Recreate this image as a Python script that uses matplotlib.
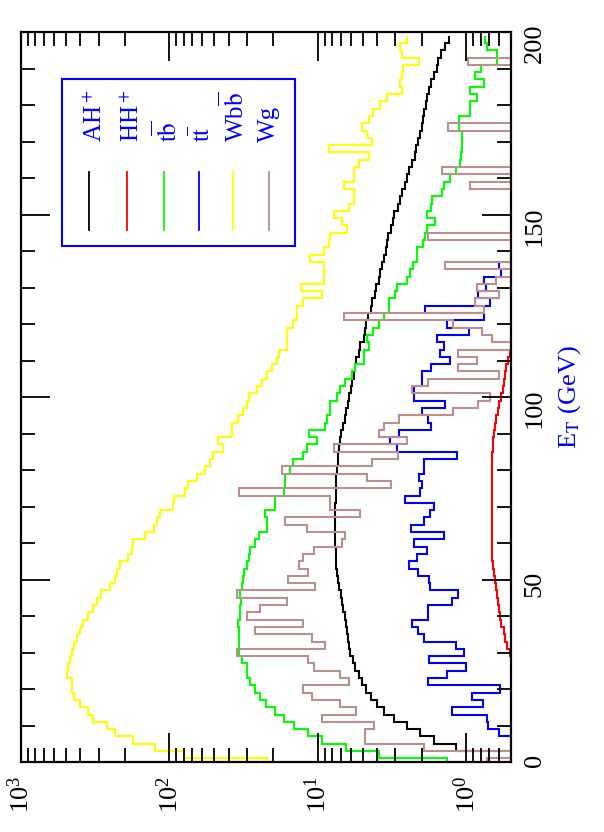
import numpy as np
import matplotlib.pyplot as plt
from matplotlib.ticker import MultipleLocator
from matplotlib.patches import Rectangle
from matplotlib.lines import Line2D

plt.rcParams['font.family'] = ['Liberation Serif', 'DejaVu Serif']
plt.rcParams['mathtext.fontset'] = 'stix'

W, H = 604, 832

# E_T bin centres (GeV), 2 GeV bins
et = np.arange(0, 200, 2)

ah = [0, 0, 1.18, 1.64, 2.04, 2.52, 3.08, 3.6, 4.0, 4.4,
      4.75, 5.05, 5.3, 5.6, 5.8, 6.05, 6.2, 6.3, 6.4, 6.5,
      6.6, 6.8, 6.9, 7.0, 7.2, 7.3, 7.4, 7.5, 7.55, 7.6,
      7.65, 7.65, 7.7, 7.7, 7.7, 7.65, 7.6, 7.6, 7.5, 7.5,
      7.4, 7.3, 7.3, 7.2, 7.1, 7.0, 6.8, 6.6, 6.5, 6.3,
      6.2, 6.0, 5.9, 5.75, 5.6, 5.5, 5.3, 5.2, 4.92, 4.85,
      4.75, 4.6, 4.4, 4.3, 4.15, 4.05, 3.9, 3.8, 3.7, 3.6,
      3.5, 3.43, 3.35, 3.2, 3.1, 3.05, 2.9, 2.8, 2.72, 2.6,
      2.51, 2.42, 2.33, 2.23, 2.17, 2.1, 2.05, 2.0, 1.97, 1.93,
      1.87, 1.83, 1.78, 1.73, 1.66, 1.58, 1.54, 1.47, 1.4, 1.3]

hh = [0, 0, 0, 0, 0, 0, 0, 0, 0, 0,
      0, 0, 0, 0, 0, 0.51, 0.53, 0.55, 0.56, 0.58,
      0.59, 0.6, 0.61, 0.62, 0.63, 0.64, 0.65, 0.66, 0.67, 0.67,
      0.67, 0.67, 0.67, 0.67, 0.67, 0.67, 0.67, 0.67, 0.67, 0.67,
      0.67, 0.67, 0.67, 0.66, 0.66, 0.65, 0.64, 0.63, 0.61, 0.6,
      0.58, 0.57, 0.56, 0.55, 0.54, 0.52, 0.51, 0.5, 0, 0,
      0, 0, 0, 0, 0, 0, 0, 0, 0, 0,
      0, 0, 0, 0, 0, 0, 0, 0, 0, 0,
      0, 0, 0, 0, 0, 0, 0, 0, 0, 0,
      0, 0, 0, 0, 0, 0, 0, 0, 0, 0]

tb = [1.35, 3.9, 6.5, 9.4, 11.7, 14.5, 17, 19.4, 22.3, 24.5,
      26.5, 28.5, 30, 30, 32.5, 34, 34, 34, 34, 34.5,
      33.5, 33.5, 33, 33.5, 32.5, 32, 31.7, 30, 29.3, 28.5,
      26.4, 25.1, 22.1, 22.1, 22.6, 19.4, 19.4, 17, 16.7, 16.7,
      15.4, 14.6, 12.6, 11.9, 10.2, 11.5, 8.9, 8.7, 8.3, 8.3,
      7.45, 7.07, 6.55, 5.9, 5.6, 4.92, 4.92, 4.55, 4.65, 4.22,
      3.9, 3.6, 3.33, 3.33, 3.01, 2.93, 2.51, 2.38, 2.3, 2.15,
      2.15, 1.95, 1.9, 1.85, 1.62, 1.85, 1.72, 1.7, 1.45, 1.42,
      1.28, 1.18, 1.1, 1.08, 1.07, 1.07, 1.07, 1.12, 1.12, 0.94,
      0.94, 0.85, 0.94, 0.76, 0.87, 0.8, 0.62, 0.62, 0.72, 0.75]

tt = [0, 0, 0, 0, 0.6, 0.71, 0.72, 1.25, 0.77, 0.91,
      0.59, 1.82, 1.35, 1.0, 1.79, 1.04, 1.18, 1.92, 2.1, 2.32,
      1.8, 1.82, 1.25, 1.13, 1.77, 1.78, 2.1, 2.45, 2.15, 1.84,
      2.26, 1.42, 2.36, 1.94, 1.75, 1.66, 2.58, 2.04, 2.0, 2.07,
      1.94, 1.94, 1.16, 2.93, 3.25, 2.86, 1.72, 1.8, 1.99, 1.39,
      2.26, 2.26, 2.0, 2.0, 1.73, 1.28, 1.5, 1.42, 1.58, 0.96,
      1.35, 0.76, 1.89, 0.69, 0.83, 0.74, 0.76, 0.58, 0.6, 0,
      0, 0, 0, 0, 0, 0, 0, 0, 0, 0,
      0, 0, 0, 0, 0, 0, 0, 0, 0, 0,
      0, 0, 0, 0, 0, 0, 0, 0, 0, 0]

wbb = [22, 80, 125, 176, 232, 264, 327, 352, 400, 442,
       455, 455, 488, 485, 467, 450, 438, 421, 400, 380,
       352, 325, 306, 290, 251, 232, 226, 215, 189, 179,
       175, 146, 128, 122, 116, 94, 93, 78, 74.5, 65.5,
       57.5, 53, 50.5, 43.7, 46.8, 38, 38, 34.3, 32, 30,
       29, 25.8, 23.9, 22.1, 20.4, 18.9, 18.4, 16.2, 16.2, 16.2,
       14.6, 13.9, 13.9, 12.6, 9.4, 12.9, 9.06, 9.06, 9.16, 11.3,
       9.16, 8.48, 8.3, 6.37, 6.9, 7.84, 6.21, 5.75, 5.75, 6.7,
       5.75, 5.75, 5.3, 4.55, 8.48, 4.32, 4.65, 5.05, 4.55, 4.22,
       3.8, 3.43, 2.72, 2.8, 2.72, 2.65, 2.09, 2.72, 2.8, 2.5]

wg = [0.72, 0, 1.94, 4.8, 4.8, 4.2, 9.4, 5.5, 7.06, 11,
      12.5, 6.2, 7.06, 10.7, 11.6, 35, 8.9, 11, 26.4, 12.5,
      30, 24.5, 16.2, 35, 10.4, 15.8, 11.6, 13.5, 12.5, 10.7,
      6.9, 6.55, 11.9, 16.6, 5.2, 8.3, 8.3, 34, 3.2, 4.7,
      17.5, 4.3, 2.9, 7.8, 2.5, 3.9, 3.6, 2.86, 1.22, 0.83,
      0.69, 2.32, 1.8, 0.6, 1.13, 0.85, 1.14, 0, 0.67, 0.78,
      1.22, 6.7, 0.76, 0.87, 0.6, 0.85, 0.63, 0, 1.4, 0,
      0, 0, 1.8, 0, 0, 0, 0, 0, 0, 0.95,
      0, 1.46, 0, 0, 0, 0, 0, 1.32, 0, 0,
      0, 0, 0, 0, 0, 0, 0.97, 0, 0, 0]

labels = ['AH$^+$', 'HH$^+$', r't$\overline{\rm b}$', r't$\overline{\rm t}$',
          r'Wb$\overline{\rm b}$', 'Wg']
colors = ['black', 'red', '#00ff00', 'blue', '#ffff00', '#bc8f8f']
series = [ah, hh, tb, tt, wbb, wg]

# bin edges: half a bin around each centre, first bin starts at 0
edges = np.concatenate([[0], et[1:] - 1, [et[-1] + 1]])

fig = plt.figure(figsize=(W / 100, H / 100), dpi=100)
ax = fig.add_axes([21 / W, 1 - 762 / H, (511 - 21) / W, (762 - 32) / H])

for vals, c in zip(series, colors):
    v = np.maximum(np.array(vals, dtype=float), 1e-3)  # empty bins drop off the axis
    ax.stairs(v, edges, orientation='horizontal', baseline=None, color=c, lw=1.5)

ax.set_xscale('log')
ax.set_xlim(1000, 0.5)
ax.set_ylim(0, 200)
ax.yaxis.set_major_locator(MultipleLocator(50))
ax.yaxis.set_minor_locator(MultipleLocator(10))

for s in ax.spines.values():
    s.set_linewidth(1.6)
ax.tick_params(which='both', direction='in', top=True, bottom=True, left=True, right=True,
               width=1.3, labelsize=19)
ax.tick_params(which='major', length=21)
ax.tick_params(which='minor', length=10)
ax.tick_params(axis='x', labelrotation=90, pad=10)
ax.tick_params(axis='y', labelleft=False, labelright=True, labelrotation=90, pad=9)

ax.yaxis.set_label_position('right')
ax.set_ylabel('E$_{\\rm T}$ (GeV)', color='blue', fontsize=19, labelpad=8)

# legend box, drawn rotated like the rest of the page
def fx(x):
    return x / W

def fy(y):
    return 1 - y / H

fig.add_artist(Rectangle((fx(62), fy(246)), (295 - 62) / W, (246 - 79) / H,
                         transform=fig.transFigure, fill=False, ec='blue', lw=1.5))
line_x = [89, 127, 164, 199, 233, 269]
text_x = [102, 139, 177, 210, 244, 275]
for lx, tx, lab, c in zip(line_x, text_x, labels, colors):
    fig.add_artist(Line2D([fx(lx), fx(lx)], [fy(172), fy(230)], transform=fig.transFigure,
                          color=c, lw=1.3))
    fig.text(fx(tx), fy(142), lab, rotation=90, rotation_mode='anchor', ha='left',
             va='baseline', color='blue', fontsize=18)

fig.savefig('out.png', dpi=100)
